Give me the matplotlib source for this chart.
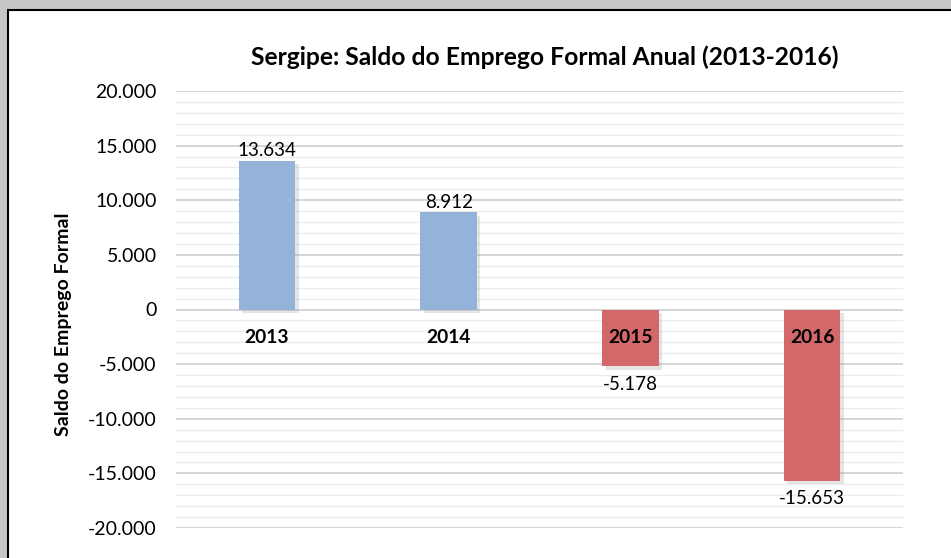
import matplotlib.pyplot as plt
import matplotlib.patheffects as pe
from matplotlib.patches import Rectangle
from matplotlib.ticker import MultipleLocator, FuncFormatter

anos = ['2013', '2014', '2015', '2016']
saldo = [13634, 8912, -5178, -15653]

plt.rcParams['font.family'] = ['Lato', 'DejaVu Sans']

def fmt(v):
    return f"{int(v):,}".replace(',', '.')

fig = plt.figure(figsize=(9.51, 5.58), dpi=100)
fig.patch.set_facecolor('#c6c6c6')
# moldura branca com borda preta
fig.patches.append(Rectangle((8/951, -0.01), 1.0, (558-10)/558 + 0.01, transform=fig.transFigure,
                             facecolor='white', edgecolor='black', linewidth=1.5, zorder=-5))

ax = fig.add_axes([176/951, 1-528/558, 727/951, (528-91)/558])
ax.set_facecolor('white')

cores = ['#93b3d8' if v >= 0 else '#d2686a' for v in saldo]
x = range(len(anos))
barras = ax.bar(x, saldo, width=0.31, color=cores, zorder=3)
for b in barras:
    b.set_path_effects([pe.SimplePatchShadow(offset=(2.5, -2.5), shadow_rgbFace='#999999', alpha=0.25),
                        pe.Normal()])

ax.set_xlim(-0.5, 3.5)
ax.set_ylim(-20000, 20000)
ax.yaxis.set_major_locator(MultipleLocator(5000))
ax.yaxis.set_minor_locator(MultipleLocator(1000))
ax.yaxis.set_major_formatter(FuncFormatter(lambda v, p: fmt(v)))
ax.grid(which='major', axis='y', color='#d2d2d2', linewidth=1.3, zorder=0)
ax.grid(which='minor', axis='y', color='#ececec', linewidth=1.0, zorder=0)
ax.set_axisbelow(True)
for s in ax.spines.values():
    s.set_visible(False)
ax.tick_params(axis='y', which='both', length=0, pad=14, labelsize=14)
ax.set_xticks([])

for i, v in enumerate(saldo):
    ax.annotate(anos[i], (i, 0), xytext=(0, -14), textcoords='offset points',
                ha='center', va='top', fontsize=13.8, fontweight='bold', zorder=5)
    if v >= 0:
        ax.annotate(fmt(v), (i, v), xytext=(0, 1), textcoords='offset points',
                    ha='center', va='bottom', fontsize=13.5, zorder=5)
    else:
        ax.annotate(fmt(v), (i, v), xytext=(0, -7), textcoords='offset points',
                    ha='center', va='top', fontsize=13.5, zorder=5)

ax.set_ylabel('Saldo do Emprego Formal', fontsize=14, fontweight='bold')
ax.yaxis.set_label_coords(-0.143, 0.466)
fig.text(545/951, 1-57/558, 'Sergipe: Saldo do Emprego Formal Anual (2013-2016)',
         ha='center', va='center', fontsize=17.7, fontweight='bold')

fig.savefig('out.png', dpi=100, facecolor=fig.get_facecolor())
